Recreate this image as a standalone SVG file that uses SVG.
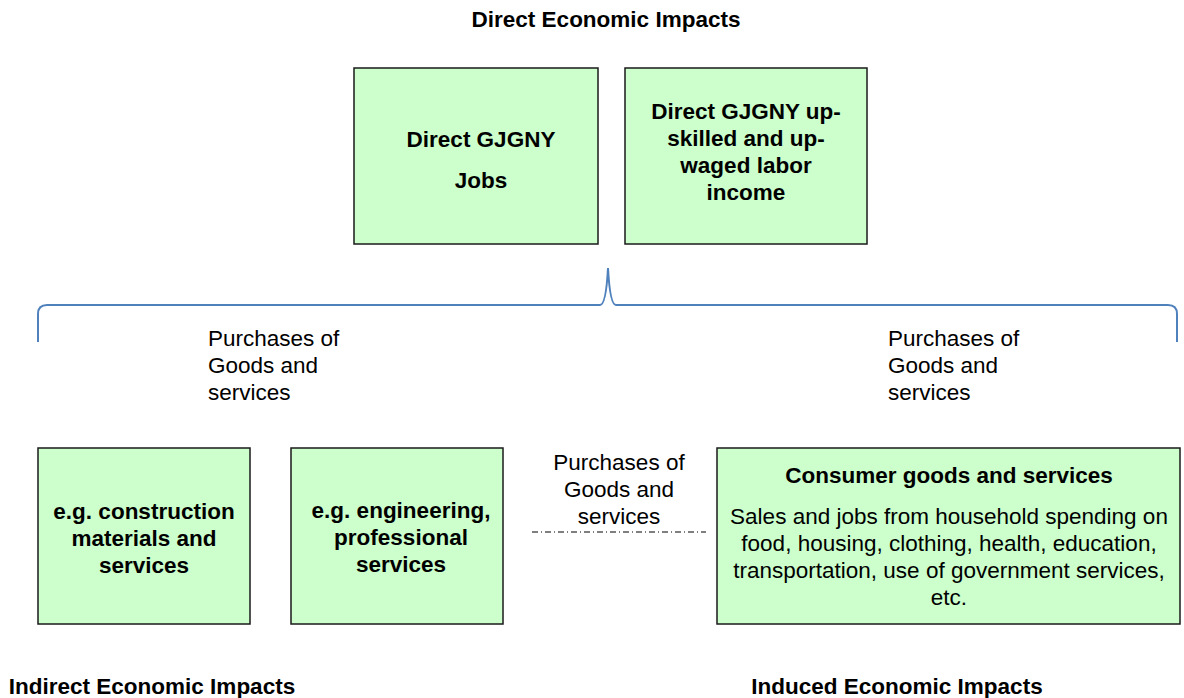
<svg xmlns="http://www.w3.org/2000/svg" width="1184" height="698" viewBox="0 0 1184 698">
  <style>
    .box { fill: #ccffcc; stroke: #1a1a1a; stroke-width: 1.5; }
    .bt { font-family: "Liberation Sans", Arial, sans-serif; font-size: 22.5px; font-weight: bold; fill: #000; text-anchor: middle; }
    .nt { font-family: "Liberation Sans", Arial, sans-serif; font-size: 22.5px; fill: #000; }
    .ntc { text-anchor: middle; }
    .brace { fill: none; stroke: #4f81bd; stroke-width: 2; }
    .dashdot { stroke: #000; stroke-width: 1; stroke-dasharray: 6 3 1 3; }
  </style>

  <rect width="1184" height="698" fill="#fff"/>

  <!-- section headings -->
  <text class="bt" x="606" y="27">Direct Economic Impacts</text>
  <text class="bt" x="152" y="694">Indirect Economic Impacts</text>
  <text class="bt" x="897" y="694">Induced Economic Impacts</text>

  <g id="direct-jobs">
    <rect class="box" x="354" y="68" width="244" height="176"/>
    <text class="bt" x="481" y="147">Direct GJGNY</text>
    <text class="bt" x="481" y="188">Jobs</text>
  </g>

  <g id="direct-income">
    <rect class="box" x="625" y="68" width="242" height="176"/>
    <text class="bt" x="746" y="119">Direct GJGNY up-</text>
    <text class="bt" x="746" y="146">skilled and up-</text>
    <text class="bt" x="746" y="173">waged labor</text>
    <text class="bt" x="746" y="200">income</text>
  </g>

  <g id="construction">
    <rect class="box" x="38" y="448" width="212" height="176"/>
    <text class="bt" x="144" y="519">e.g. construction</text>
    <text class="bt" x="144" y="546">materials and</text>
    <text class="bt" x="144" y="573">services</text>
  </g>

  <g id="engineering">
    <rect class="box" x="291" y="448" width="212" height="176"/>
    <text class="bt" x="401" y="518">e.g. engineering,</text>
    <text class="bt" x="401" y="545">professional</text>
    <text class="bt" x="401" y="572">services</text>
  </g>

  <g id="consumer">
    <rect class="box" x="717" y="448" width="463" height="176"/>
    <text class="bt" x="949" y="483">Consumer goods and services</text>
    <text class="nt ntc" x="949" y="524">Sales and jobs from household spending on</text>
    <text class="nt ntc" x="949" y="551">food, housing, clothing, health, education,</text>
    <text class="nt ntc" x="949" y="578">transportation, use of government services,</text>
    <text class="nt ntc" x="949" y="605">etc.</text>
  </g>

  <g id="connectors">
    <path class="brace" d="M38,342 V314 Q38,305 47,305 H600 Q606,305 608,268 Q610,305 616,305 H1168 Q1177,305 1177,314 V342"/>
    <line class="dashdot" x1="532" y1="532" x2="706" y2="532"/>
  </g>

  <g id="labels">
    <text class="nt" x="208" y="346">Purchases of</text>
    <text class="nt" x="208" y="373">Goods and</text>
    <text class="nt" x="208" y="400">services</text>

    <text class="nt" x="888" y="346">Purchases of</text>
    <text class="nt" x="888" y="373">Goods and</text>
    <text class="nt" x="888" y="400">services</text>

    <text class="nt ntc" x="619" y="470">Purchases of</text>
    <text class="nt ntc" x="619" y="497">Goods and</text>
    <text class="nt ntc" x="619" y="524">services</text>
  </g>
</svg>
